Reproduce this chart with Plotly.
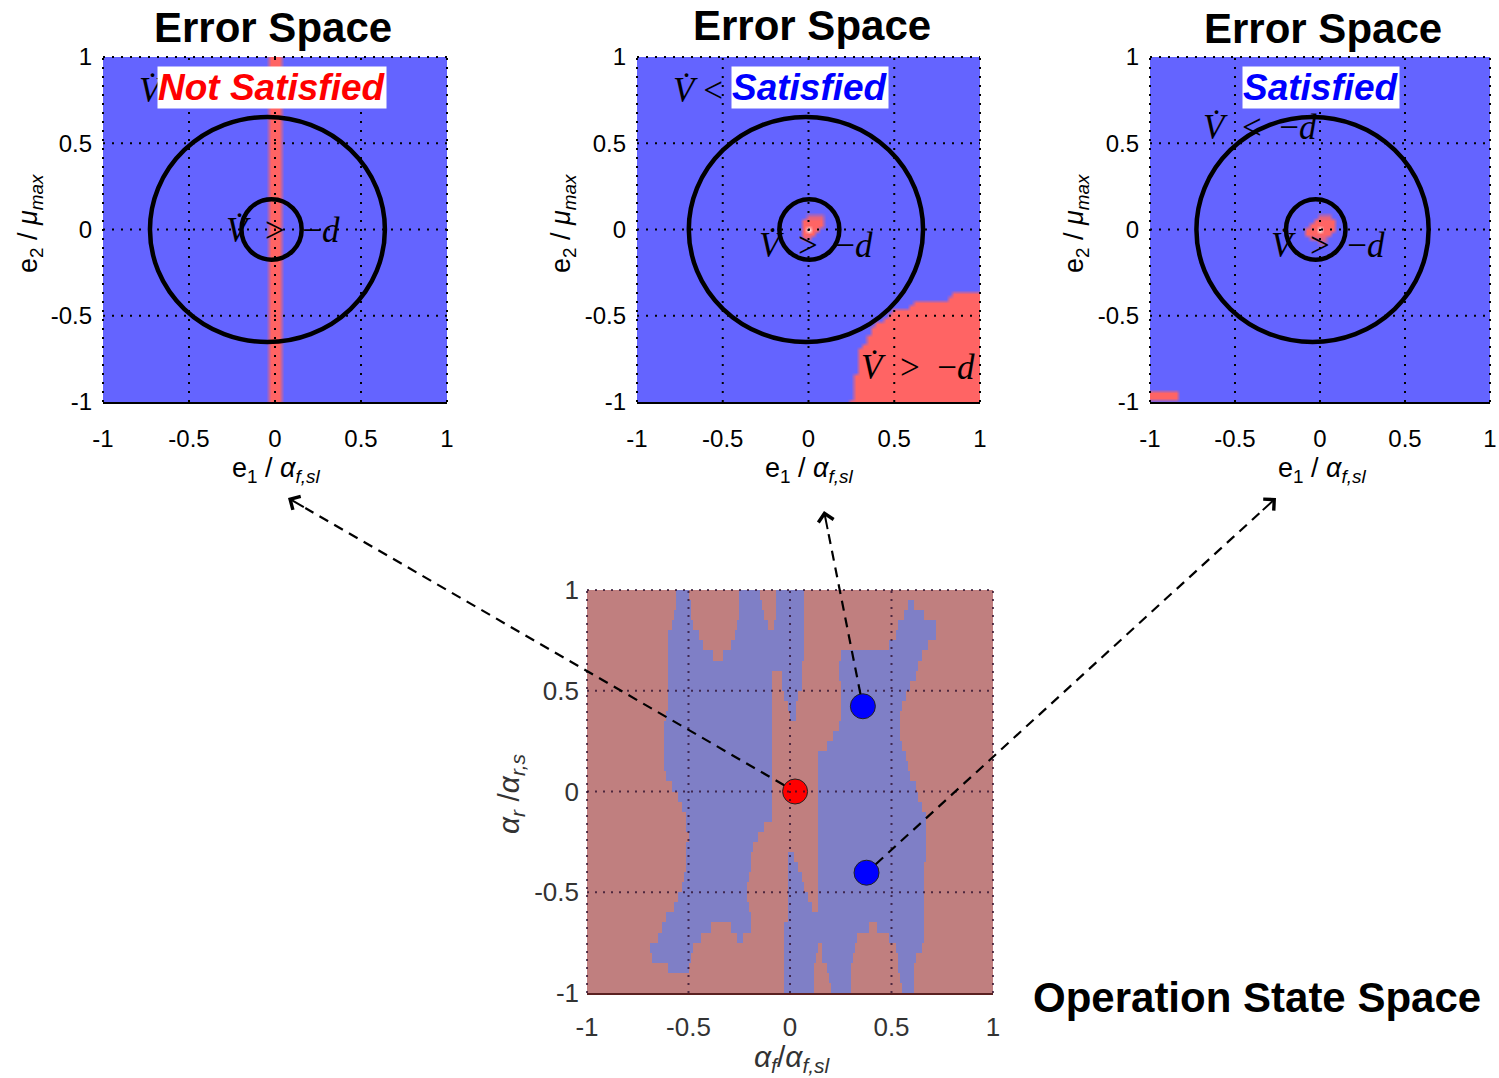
import numpy as np
import plotly.graph_objects as go

W, H = 1499, 1078
SANS = "Arial, Liberation Sans, sans-serif"
SERIF = "Liberation Serif, DejaVu Serif, serif"

# ---------------- data ----------------
tick_vals = [-1, -0.5, 0, 0.5, 1]
tick_text = ["-1", "-0.5", "0", "0.5", "1"]

panel_titles = ["Error Space", "Error Space", "Error Space"]
panel_verdicts = ["Not Satisfied", "Satisfied", "Satisfied"]
verdict_colors = ["#FF0000", "#0000FF", "#0000FF"]

# error-space panel 1: thin unsatisfied stripe around e1 = 0
p1_stripe_halfwidth = 0.025
# error-space panel 2: lower-right unsatisfied region (upper edge)
p2_edge_x = [0.25, 0.26, 0.30, 0.36, 0.38, 0.50, 0.58, 0.63, 0.81, 0.86, 1.0]
p2_edge_y = [-1.0, -0.91, -0.70, -0.60, -0.56, -0.47, -0.45, -0.41, -0.40, -0.36, -0.36]
# small spots at the origin: rows of (e2, e1 from, e1 to, level); level 2 = peak at origin
p2_spot_rows = [(0.075, 0.0, 0.075, 0.8), (0.05, -0.025, 0.075, 1.0), (0.025, -0.025, 0.075, 1.0),
                (0.0, -0.025, 0.05, 1.0), (-0.025, -0.025, 0.025, 1.0), (-0.05, -0.025, 0.0, 0.8)]
p3_spot_rows = [(0.075, 0.0, 0.05, 0.8), (0.05, -0.025, 0.075, 1.0), (0.025, -0.05, 0.075, 1.0),
                (0.0, -0.075, 0.075, 1.0), (-0.025, -0.075, 0.05, 1.0), (-0.05, -0.05, 0.025, 0.8),
                (-0.075, 0.0, 0.025, 0.6)]
spot_peak = 2.0
# error-space panel 3: lower-left corner patch
p3_corner_x = [-1.0, -0.85]
p3_corner_y = [-0.975, -0.95]

# level-set circles in each error-space panel
circle_outer_cx = [-0.044, -0.015, -0.044]
circle_outer_rx = 0.683
circle_outer_ry = 0.652
circle_inner_cx = [-0.02, 0.005, -0.025]
circle_inner_r = 0.175

# operation state space: blue (satisfied) intervals of alpha_f for each alpha_r row
op_rows = [
    (0.975, [(-0.56, -0.503), (-0.247, -0.148), (-0.074, 0.074)]),
    (0.925, [(-0.56, -0.494), (-0.247, -0.145), (-0.074, 0.074), (0.585, 0.61)]),
    (0.875, [(-0.572, -0.489), (-0.252, -0.132), (-0.071, 0.074), (0.56, 0.66)]),
    (0.825, [(-0.58, -0.478), (-0.259, -0.115), (-0.082, 0.074), (0.535, 0.724)]),
    (0.775, [(-0.60, -0.453), (-0.272, 0.074), (0.52, 0.716)]),
    (0.725, [(-0.60, -0.428), (-0.288, 0.074), (0.49, 0.675)]),
    (0.675, [(-0.60, -0.382), (-0.325, 0.066), (0.255, 0.65)]),
    (0.625, [(-0.60, 0.058), (0.24, 0.634)]),
    (0.575, [(-0.60, -0.091), (-0.044, 0.058), (0.24, 0.617)]),
    (0.525, [(-0.60, -0.091), (-0.038, 0.058), (0.255, 0.593)]),
    (0.475, [(-0.60, -0.091), (-0.025, 0.041), (0.255, 0.568)]),
    (0.425, [(-0.60, -0.091), (-0.012, 0.033), (0.255, 0.55)]),
    (0.375, [(-0.61, -0.091), (0.0, 0.025), (0.247, 0.535)]),
    (0.325, [(-0.62, -0.091), (0.24, 0.535)]),
    (0.275, [(-0.62, -0.091), (0.214, 0.543)]),
    (0.225, [(-0.62, -0.091), (0.18, 0.55)]),
    (0.175, [(-0.62, -0.091), (0.14, 0.568)]),
    (0.125, [(-0.62, -0.091), (0.14, 0.576)]),
    (0.075, [(-0.605, -0.091), (0.14, 0.593)]),
    (0.025, [(-0.577, -0.091), (0.14, 0.617)]),
    (-0.025, [(-0.552, -0.091), (0.14, 0.625)]),
    (-0.075, [(-0.527, -0.091), (0.14, 0.65)]),
    (-0.125, [(-0.511, -0.091), (0.14, 0.667)]),
    (-0.175, [(-0.506, -0.132), (0.14, 0.672)]),
    (-0.225, [(-0.50, -0.165), (0.14, 0.672)]),
    (-0.275, [(-0.506, -0.181), (0.14, 0.672)]),
    (-0.325, [(-0.511, -0.189), (-0.005, 0.016), (0.14, 0.667)]),
    (-0.375, [(-0.511, -0.189), (-0.005, 0.041), (0.14, 0.658)]),
    (-0.425, [(-0.519, -0.198), (-0.005, 0.058), (0.14, 0.658)]),
    (-0.475, [(-0.532, -0.206), (-0.005, 0.074), (0.14, 0.658)]),
    (-0.525, [(-0.549, -0.206), (-0.005, 0.09), (0.14, 0.658)]),
    (-0.575, [(-0.572, -0.203), (-0.005, 0.107), (0.14, 0.658)]),
    (-0.625, [(-0.61, -0.194), (-0.01, 0.658)]),
    (-0.675, [(-0.626, -0.389), (-0.288, -0.189), (-0.028, 0.387), (0.428, 0.658)]),
    (-0.725, [(-0.654, -0.445), (-0.264, -0.231), (-0.028, 0.33), (0.494, 0.658)]),
    (-0.775, [(-0.687, -0.478), (-0.028, 0.14), (0.156, 0.32), (0.518, 0.65)]),
    (-0.825, [(-0.675, -0.489), (-0.028, 0.13), (0.165, 0.313), (0.527, 0.617)]),
    (-0.875, [(-0.601, -0.502), (-0.028, 0.123), (0.18, 0.30), (0.535, 0.612)]),
    (-0.925, [(-0.028, 0.123), (0.194, 0.296), (0.543, 0.612)]),
    (-0.975, [(-0.028, 0.123), (0.198, 0.296), (0.551, 0.612)]),
]

# selected operating points
op_points_x = [0.025, 0.359, 0.377]
op_points_y = [0.0, 0.423, -0.403]
op_points_color = ["#FF0000", "#0000FF", "#0000FF"]

# ---------------- layout geometry (reference-window pixels) ----------------
plot_px = [(103, 447, 57, 402), (637, 980, 57, 402), (1150, 1490, 57, 402), (587, 993, 590, 993)]
arrow_tip_px = [(288, 498), (824, 511), (1276, 498)]


def fx(px):
    return min(max(px / W, 0.0), 1.0)


def fy(py):
    return min(max(1 - py / H, 0.0), 1.0)


xdoms = [(fx(a), fx(b)) for a, b, _, _ in plot_px]
ydoms = [(fy(d), fy(c)) for _, _, c, d in plot_px]


def sfx(i):
    return "" if i == 0 else str(i + 1)


def data_to_px(i, x, y):
    a, b, c, d = plot_px[i]
    return a + (x + 1) / 2 * (b - a), d - (y + 1) / 2 * (d - c)


fig = go.Figure()

# ---------------- error-space maps ----------------
g = np.round(np.linspace(-1, 1, 81), 4)
X, Y = np.meshgrid(g, g)
TOL = 1e-9


def paint_spot(z, rows):
    for yy, xa, xb, lev in rows:
        m = (np.abs(Y - yy) < TOL) & (X >= xa - TOL) & (X <= xb + TOL)
        z[m] = np.maximum(z[m], lev)
    z[(np.abs(X) < TOL) & (np.abs(Y) < TOL)] = spot_peak


z1 = np.where(np.abs(X) <= p1_stripe_halfwidth + TOL, 1.0, 0.0)
ytop = np.interp(g, p2_edge_x, p2_edge_y, left=-5.0)
z2 = np.where(Y <= ytop[None, :] + TOL, 1.0, 0.0)
paint_spot(z2, p2_spot_rows)
z3 = np.where((X >= p3_corner_x[0] - TOL) & (X <= p3_corner_x[1] + TOL)
              & (Y >= p3_corner_y[0] - TOL) & (Y <= p3_corner_y[1] + TOL), 1.0, 0.0)
paint_spot(z3, p3_spot_rows)

err_cs = [[0, "#6464FF"], [0.5, "#FF6464"], [1, "#FFFFFF"]]
for i, z in enumerate([z1, z2, z3]):
    fig.add_trace(go.Heatmap(x=g, y=g, z=z, zmin=0, zmax=2, colorscale=err_cs,
                             showscale=False, zsmooth="best", hoverinfo="skip",
                             xaxis="x" + sfx(i), yaxis="y" + sfx(i)))

# ---------------- operation state space map ----------------
op_x = np.round(np.linspace(-0.995, 0.995, 200), 3)
op_y = [r[0] for r in op_rows]
op_z = []
for _, ivs in op_rows:
    row = np.zeros_like(op_x)
    for a, b in ivs:
        row[(op_x >= a) & (op_x <= b)] = 1.0
    op_z.append(row)
fig.add_trace(go.Heatmap(x=op_x, y=op_y, z=op_z, zmin=0, zmax=1,
                         colorscale=[[0, "#C07F7F"], [1, "#7F7FC6"]],
                         showscale=False, zsmooth=False, hoverinfo="skip",
                         xaxis="x4", yaxis="y4"))
fig.add_trace(go.Scatter(x=op_points_x, y=op_points_y, mode="markers",
                         marker=dict(size=25, color=op_points_color,
                                     line=dict(color="#222222", width=1)),
                         cliponaxis=False, hoverinfo="skip", showlegend=False,
                         xaxis="x4", yaxis="y4"))

# ---------------- axes ----------------
for i in range(4):
    s = sfx(i)
    bottom = i == 3
    tfont = dict(family=SANS, size=26 if bottom else 24, color="#333333" if bottom else "black")
    fig.update_layout({
        "xaxis" + s: dict(domain=list(xdoms[i]), range=[-1, 1], tickvals=tick_vals, ticktext=tick_text,
                          showgrid=False, zeroline=False, showline=True,
                          linecolor="#5a2020" if bottom else "black", linewidth=2,
                          ticks="", tickfont=tfont, ticklabelstandoff=10 if bottom else 14,
                          anchor="y" + s, fixedrange=True, automargin=False),
        "yaxis" + s: dict(domain=list(ydoms[i]), range=[-1, 1], tickvals=tick_vals, ticktext=tick_text,
                          showgrid=False, zeroline=False, showline=False,
                          ticks="", tickfont=tfont, ticklabelstandoff=7 if bottom else 10,
                          anchor="x" + s, fixedrange=True, automargin=False),
    })

shapes = []
for i in range(4):
    s = sfx(i)
    bottom = i == 3
    gl = dict(color="rgba(40,10,40,0.75)" if bottom else "black", width=2,
              dash="2px,6px" if bottom else "2px,7px")
    for v in tick_vals:
        f = (v + 1) / 2
        shapes.append(dict(type="line", xref="x" + s + " domain", yref="y" + s + " domain",
                           x0=f, x1=f, y0=0, y1=1, line=gl, layer="above"))
        if f > 0:
            shapes.append(dict(type="line", xref="x" + s + " domain", yref="y" + s + " domain",
                               x0=0, x1=1, y0=f, y1=f, line=gl, layer="above"))

for i in range(3):
    s = sfx(i)
    shapes.append(dict(type="circle", xref="x" + s, yref="y" + s,
                       x0=circle_outer_cx[i] - circle_outer_rx, x1=circle_outer_cx[i] + circle_outer_rx,
                       y0=-circle_outer_ry, y1=circle_outer_ry,
                       line=dict(color="black", width=4.5), layer="above"))
    shapes.append(dict(type="circle", xref="x" + s, yref="y" + s,
                       x0=circle_inner_cx[i] - circle_inner_r, x1=circle_inner_cx[i] + circle_inner_r,
                       y0=-circle_inner_r, y1=circle_inner_r,
                       line=dict(color="black", width=4.5), layer="above"))

annotations = []
# dashed arrows from operating points to their error-space panels
for k in range(3):
    cx, cy = data_to_px(3, op_points_x[k], op_points_y[k])
    tx, ty = arrow_tip_px[k]
    dx, dy = tx - cx, ty - cy
    L = (dx ** 2 + dy ** 2) ** 0.5
    ux, uy = dx / L, dy / L
    sx0, sy0 = cx + ux * 12.5, cy + uy * 12.5
    shapes.append(dict(type="line", xref="paper", yref="paper",
                       x0=fx(sx0), y0=fy(sy0), x1=fx(tx - ux * 20), y1=fy(ty - uy * 20),
                       line=dict(color="black", width=2.2, dash="10px,7px"), layer="above"))
    annotations.append(dict(xref="paper", yref="paper", x=fx(tx), y=fy(ty), text="",
                            showarrow=True, arrowhead=4, arrowsize=1.5, arrowwidth=2,
                            arrowcolor="black", ax=-ux * 20, ay=-uy * 20, standoff=0))


def ann(px, py, text, size, color="black", family=SANS, xanchor="center", **kw):
    d = dict(xref="paper", yref="paper", x=fx(px), y=fy(py), text=text, showarrow=False,
             xanchor=xanchor, yanchor="middle",
             font=dict(family=family, size=size, color=color))
    d.update(kw)
    annotations.append(d)


VD = "<i>V\u0307</i>"
SP = "\u2002"
lt_top = VD + " &lt;" + SP + "\u2212<i>d</i>"
lt_txt = VD + SP + "&lt;" + SP + "\u2212<i>d</i>"
gt_txt = VD + SP + "&gt;" + SP + "\u2212<i>d</i>"

# titles
for (px, py), t in zip([(272.5, 27), (812, 26), (1323, 28)], panel_titles):
    ann(px, py, "<b>" + t + "</b>", 42)
ann(1257, 997, "<b>Operation State Space</b>", 42)

# axis labels
xlab_top = "e<sub>1</sub> / <i>\u03b1</i><sub><i>f,sl</i></sub>"
ylab_top = "e<sub>2</sub> / <i>\u03bc</i><sub><i>max</i></sub>"
for px in [276, 809, 1322]:
    ann(px, 470, xlab_top, 27)
for px in [30, 563, 1076]:
    ann(px, 224, ylab_top, 27, textangle=-90)
ann(792, 1058, "<i>\u03b1</i><sub><i>f</i></sub>/<i>\u03b1</i><sub><i>f,sl</i></sub>", 30, color="#333333")
ann(510, 794, "<i>\u03b1</i><sub><i>r</i></sub> /<i>\u03b1</i><sub><i>r,s</i></sub>", 30, color="#333333",
    textangle=-90)

# Lyapunov condition labels
LS = 35
ann(137, 90, lt_top, LS, family=SERIF, xanchor="left")
ann(283, 230, gt_txt, LS, family=SERIF)
ann(671, 90, lt_top, LS, family=SERIF, xanchor="left")
ann(816, 245, gt_txt, LS, family=SERIF)
ann(918, 367, gt_txt, LS, family=SERIF)
ann(1260, 128, lt_txt, LS, family=SERIF)
ann(1328, 245, gt_txt, LS, family=SERIF)

# verdict boxes
for (px, py), t, c in zip([(272, 88), (809.5, 88), (1320.5, 88)], panel_verdicts, verdict_colors):
    ann(px, py, "<b><i>" + t + "</i></b>", 37, color=c, bgcolor="white", borderpad=0)

fig.update_layout(width=W, height=H, margin=dict(l=0, r=0, t=0, b=0, autoexpand=False),
                  paper_bgcolor="white", plot_bgcolor="white", showlegend=False,
                  shapes=shapes, annotations=annotations)

fig.write_html("out.html", include_plotlyjs=True, config={"displayModeBar": False},
               post_script="document.body.style.margin='0';document.body.style.overflow='hidden';")
